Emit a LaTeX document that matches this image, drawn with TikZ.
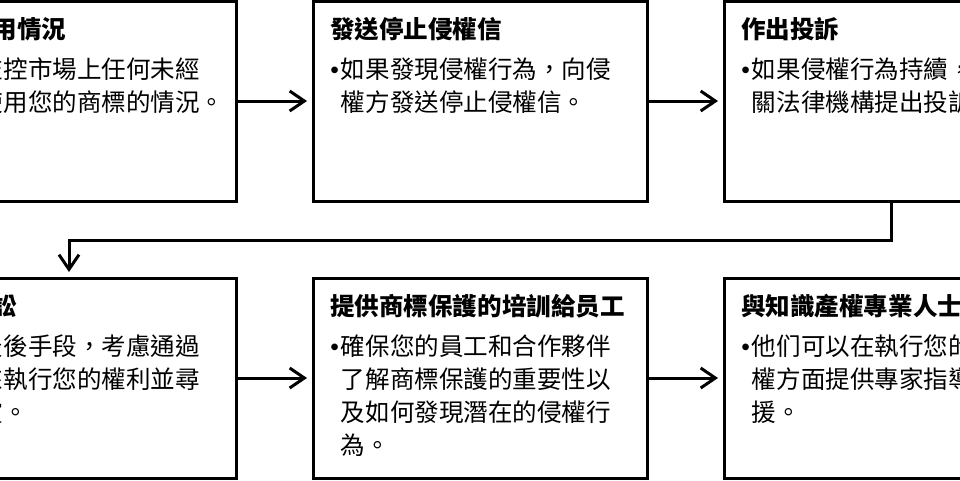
\documentclass[tikz,border=0pt]{standalone}
\usepackage{fontspec}
\setmainfont{Noto Sans CJK TC}
\newfontfamily\bulletfont{Liberation Sans}
\newcommand\stepdot{\makebox[8pt][l]{\bulletfont •}}
\newcommand\stepgap{\phantom{\stepdot}}
\usetikzlibrary{arrows.meta}

\begin{document}
\begin{tikzpicture}[x=0.75pt, y=-0.75pt,
  stage/.style={draw, line width=2.25pt, minimum width=250.5pt, minimum height=150pt, inner sep=0pt, outer sep=0pt},
  head/.style={anchor=base west, inner sep=0pt, font=\bfseries\fontsize{18.4}{24.75}\selectfont},
  body/.style={anchor=base west, inner sep=0pt, align=left, font=\fontsize{18.4}{24.75}\selectfont},
  flow/.style={line width=2.25pt, -{Straight Barb[length=11pt, width=15pt]}, shorten >=4.5pt}]
\useasboundingbox (0,0) rectangle (960,480);
\clip (0,0) rectangle (960,480);
% the six steps
\node[stage] (watch) at (69,101) {};
\node[stage] (letter) at (480,101) {};
\node[stage] (complain) at (891,101) {};
\node[stage] (lawsuit) at (69,378) {};
\node[stage] (training) at (480,378) {};
\node[stage] (experts) at (891,378) {};
% titles
\node[head] (watch-t) at ([shift={(17,37)}]watch.north west) {監控使用情況};
\node[head] (letter-t) at ([shift={(17,37)}]letter.north west) {發送停止侵權信};
\node[head] (complain-t) at ([shift={(17,37)}]complain.north west) {作出投訴};
\node[head] (lawsuit-t) at ([shift={(17,37)}]lawsuit.north west) {法律訴訟};
\node[head] (training-t) at ([shift={(17,37)}]training.north west) {提供商標保護的培訓給员工};
\node[head] (experts-t) at ([shift={(17,37)}]experts.north west) {與知識產權專業人士合作};
% texts (base = last line)
\node[body] (watch-b) at ([shift={(17,110)}]watch.north west)
  {\stepdot 持續監控市場上任何未經\\\stepgap 授權使用您的商標的情況。};
\node[body] (letter-b) at ([shift={(17,110)}]letter.north west)
  {\stepdot 如果發現侵權行為，向侵\\\stepgap 權方發送停止侵權信。};
\node[body] (complain-b) at ([shift={(17,110)}]complain.north west)
  {\stepdot 如果侵權行為持續，向相\\\stepgap 關法律機構提出投訴。};
\node[body] (lawsuit-b) at ([shift={(17,143)}]lawsuit.north west)
  {\stepdot 作為最後手段，考慮通過\\\stepgap 訴訟來執行您的權利並尋\\\stepgap 求賠償。};
\node[body] (training-b) at ([shift={(17,176)}]training.north west)
  {\stepdot 確保您的員工和合作夥伴\\\stepgap 了解商標保護的重要性以\\\stepgap 及如何發現潛在的侵權行\\\stepgap 為。};
\node[body] (experts-b) at ([shift={(17,143)}]experts.north west)
  {\stepdot 他们可以在執行您的商標\\\stepgap 權方面提供專家指導和支\\\stepgap 援。};
% arrows
\draw[flow] (watch) -- (letter);
\draw[flow] (letter) -- (complain);
\draw[flow] (complain.south) -- ++(0,39) -| (lawsuit.north);
\draw[flow] (lawsuit) -- (training);
\draw[flow] (training) -- (experts);
\end{tikzpicture}
\end{document}
